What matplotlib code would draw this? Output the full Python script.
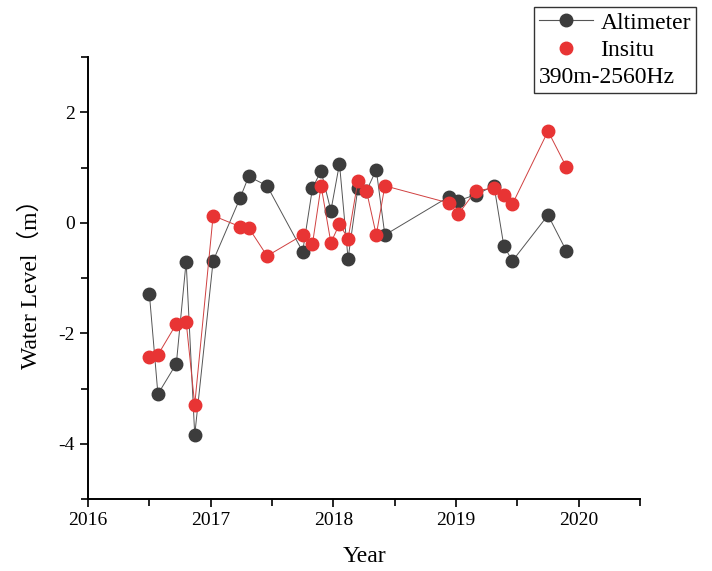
import matplotlib
matplotlib.use('Agg')
from matplotlib import pyplot as plt
from matplotlib.lines import Line2D
from matplotlib.ticker import MultipleLocator

plt.rcParams['font.family'] = ['Liberation Serif', 'Noto Sans CJK SC']

# Altimeter water level (decimal year, metres)
alt_year = [2016.50, 2016.57, 2016.72, 2016.80, 2016.87, 2017.02, 2017.24, 2017.31,
            2017.46, 2017.75, 2017.83, 2017.90, 2017.98, 2018.05, 2018.12, 2018.20,
            2018.27, 2018.35, 2018.42, 2018.94, 2019.02, 2019.16, 2019.31, 2019.39,
            2019.46, 2019.75, 2019.90]
alt_level = [-1.28, -3.10, -2.55, -0.70, -3.84, -0.69, 0.45, 0.84,
             0.67, -0.52, 0.63, 0.94, 0.22, 1.07, -0.65, 0.63,
             0.58, 0.96, -0.22, 0.47, 0.40, 0.51, 0.67, -0.42,
             -0.69, 0.14, -0.51]

# In-situ gauge water level
ins_year = alt_year
ins_level = [-2.43, -2.39, -1.83, -1.79, -3.29, 0.13, -0.07, -0.09,
             -0.60, -0.22, -0.38, 0.67, -0.36, -0.02, -0.29, 0.76,
             0.58, -0.22, 0.67, 0.36, 0.16, 0.58, 0.63, 0.51,
             0.34, 1.66, 1.01]

fig = plt.figure(figsize=(7.12, 5.71), dpi=100)
ax = fig.add_axes([0.1236, 0.126, 0.7753, 0.774])

ax.plot(alt_year, alt_level, color='#555555', lw=0.7, marker='o', ms=9,
        mfc='#3c3c3c', mec='#3c3c3c', zorder=2)
ax.plot(ins_year, ins_level, color='#d04040', lw=0.7, marker='o', ms=9,
        mfc='#e83434', mec='#e83434', zorder=3)

ax.set_xlim(2016, 2020.5)
ax.set_ylim(-5, 3)
ax.xaxis.set_major_locator(MultipleLocator(1))
ax.xaxis.set_minor_locator(MultipleLocator(0.5))
ax.yaxis.set_major_locator(MultipleLocator(2))
ax.yaxis.set_minor_locator(MultipleLocator(1))
ax.yaxis.set_major_formatter(plt.FuncFormatter(lambda v, p: '%d' % v if v < 3 else ''))
ax.tick_params(which='both', direction='out', width=1.2, labelsize=14)
ax.tick_params(which='major', length=6)
ax.tick_params(which='minor', length=5)

for s in ['top', 'right']:
    ax.spines[s].set_visible(False)
for s in ['left', 'bottom']:
    ax.spines[s].set_linewidth(1.4)

ax.set_xlabel('Year', fontsize=17, labelpad=12)
ax.set_ylabel('Water Level（m）', fontsize=17, labelpad=12)

handles = [
    Line2D([], [], color='#555555', lw=0.8, marker='o', ms=9, mfc='#3c3c3c', mec='#3c3c3c'),
    Line2D([], [], ls='none', marker='o', ms=9, mfc='#e83434', mec='#e83434'),
]
leg = fig.legend(handles, ['Altimeter', 'Insitu'], loc='upper right',
                 bbox_to_anchor=(0.977, 0.987), borderaxespad=0, fontsize=17,
                 title='390m-2560Hz', title_fontsize=17, alignment='left',
                 fancybox=False, edgecolor='#333333', framealpha=1,
                 handlelength=2.3, handletextpad=0.3, labelspacing=0.25,
                 borderpad=0.2)
leg.get_frame().set_linewidth(1.0)
# put the title line under the entries, as in the original
leg._legend_box._children = leg._legend_box._children[::-1]

fig.savefig('out.png', dpi=100)
